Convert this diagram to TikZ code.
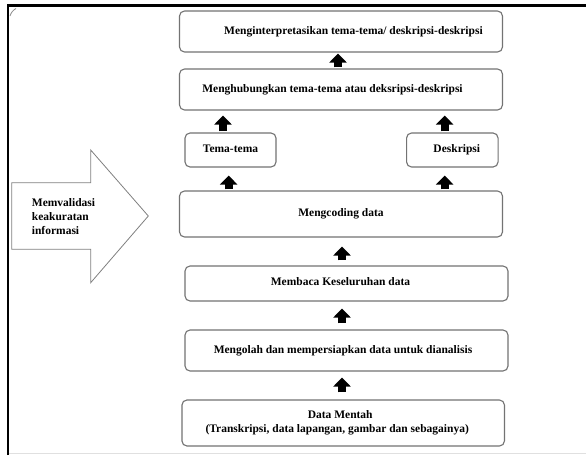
\documentclass[tikz,border=0pt]{standalone}
\usepackage{fontspec}
\setmainfont{Liberation Serif}
\usetikzlibrary{arrows.meta}
\begin{document}
\begin{tikzpicture}[x=1pt,y=-1pt,
  every node/.style={font=\fontsize{11.5}{14}\selectfont\bfseries, text=black},
  box/.style={draw=black!55, line width=1.1pt, rounded corners=5pt, fill=white, inner sep=0pt, align=center},
  blk/.style={line width=8pt, black, -{Triangle[width=17pt,length=9pt]}},
  ]
\useasboundingbox (0,0) rectangle (586,455);
\fill[white] (0,0) rectangle (586,455);
% frame
\draw[black!12, line width=1pt] (8,453.5) -- (586,453.5);
\draw[black, line width=2.4pt] (8,455) -- (8,5.5) -- (586,5.5);
\draw[black!45, line width=0.8pt] (10,16) to[bend left=20] (16,8.5);
% boxes
\node[box, minimum width=323, minimum height=41] (b1) at (341,31.5) {\raisebox{2pt}{\hspace*{25pt}Menginterpretasikan tema-tema/ deskripsi-deskripsi}};
\node[box, minimum width=323, minimum height=41] (b2) at (341,89.5) {\raisebox{1pt}{\hspace*{-17pt}Menghubungkan tema-tema atau deksripsi-deskripsi}};
\node[box, minimum width=91, minimum height=34] (tema) at (230.5,150) {\raisebox{2pt}{Tema-tema}};
\node[box, minimum width=91.5, minimum height=34] (desk) at (452.3,150) {\hspace*{9pt}Deskripsi};
\node[box, minimum width=323, minimum height=46] (cod) at (341,214) {\raisebox{3pt}{Mengcoding data}};
\node[box, minimum width=323, minimum height=35] (baca) at (346.5,283.5) {\raisebox{3pt}{\hspace*{-12pt}Membaca Keseluruhan data}};
\node[box, minimum width=323, minimum height=41] (olah) at (346.5,350.5) {\hspace*{-7pt}Mengolah dan mempersiapkan data untuk dianalisis};
\node[box, minimum width=322.5, minimum height=46] (mentah) at (343.2,423) {\raisebox{3pt}{\hspace*{-12pt}\begin{tabular}{@{}c@{}}\fontsize{11.5}{18.3}\selectfont\hspace*{6pt}Data Mentah\\(Transkripsi, data lapangan, gambar dan sebagainya)\end{tabular}}};
% left big arrow
\draw[black!50, line width=0.8pt, fill=white] (11.7,182.7) -- (90.7,182.7) -- (90.7,150) -- (148.3,216) -- (90.7,282.7) -- (90.7,249.3) -- (11.7,249.3) -- cycle;
\node[anchor=west, align=left, inner sep=0pt, font=\fontsize{11.5}{14}\selectfont\bfseries] (valid) at (31.7,216.7) {Memvalidasi\\keakuratan\\informasi};
% arrow x positions
\coordinate (xa) at (338,0);
\coordinate (xt) at (223,0);
\coordinate (xd) at (444.7,0);
\coordinate (xt2) at (228.7,0);
\coordinate (xm) at (342,0);
% connectors
\draw[blk, shorten <=1pt, shorten >=1pt] (b2.north -| xa) -- (b1.south -| xa);
\draw[blk, shorten <=1pt, shorten >=5pt] (tema.north -| xt) -- (b2.south -| xt);
\draw[blk, shorten <=1pt, shorten >=5pt] (desk.north -| xd) -- (b2.south -| xd);
\draw[blk, shorten <=1pt, shorten >=8pt] (cod.north -| xt2) -- (tema.south -| xt2);
\draw[blk, shorten <=1pt, shorten >=8pt] (cod.north -| xd) -- (desk.south -| xd);
\draw[blk, shorten <=5pt, shorten >=9pt] (baca.north -| xm) -- (cod.south -| xm);
\draw[blk, shorten <=6pt, shorten >=7pt] (olah.north -| xm) -- (baca.south -| xm);
\draw[blk, shorten <=7pt, shorten >=6pt] (mentah.north -| xm) -- (olah.south -| xm);
\end{tikzpicture}
\end{document}
